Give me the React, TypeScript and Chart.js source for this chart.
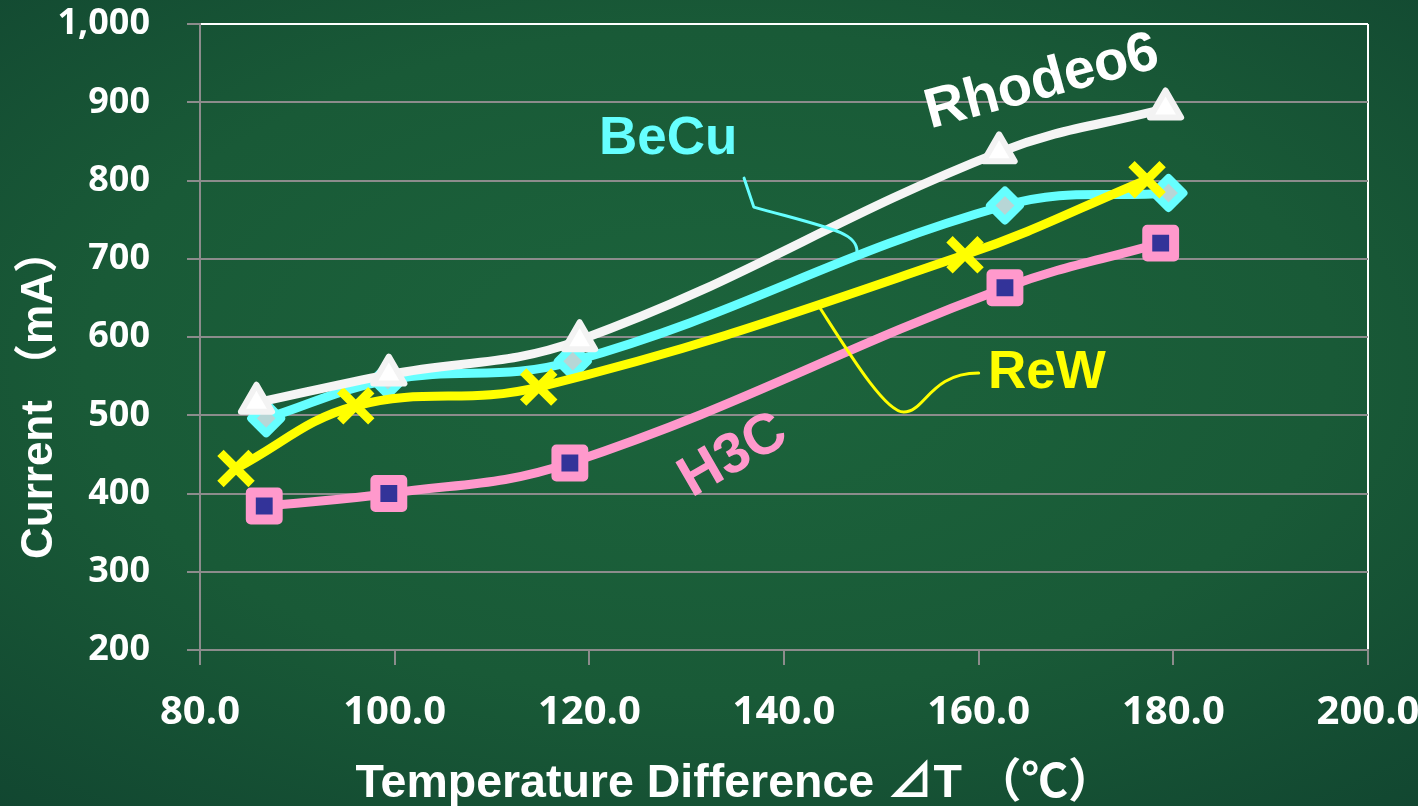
import React, { useEffect, useRef } from "react";
import { Chart, registerables } from "chart.js";

Chart.register(...registerables);

// ---- data ----
const rhodeoX = [85.8, 99.4, 119.0, 162.1, 179.2];
const rhodeoY = [516, 552, 596, 836, 892];
const becuX = [86.8, 99.3, 118.3, 162.7, 179.5];
const becuY = [496, 545, 569, 768, 784];
const rewX = [83.7, 96.0, 114.8, 158.6, 177.3];
const rewY = [432, 512, 536, 705, 801];
const h3cX = [86.6, 99.4, 118.0, 162.7, 178.7];
const h3cY = [384, 400, 439, 663, 720];

const xTicks = [80, 100, 120, 140, 160, 180, 200];
const yTicks = [200, 300, 400, 500, 600, 700, 800, 900, 1000];

const xTitle = "Temperature Difference ⊿T （℃）";
const yTitle = "Current （mA）";

// series name annotations (data coordinates)
const seriesNames = ["Rhodeo6", "BeCu", "ReW", "H3C"];
const nameX = [166.5, 128.1, 167.0, 134.8];
const nameY = [925, 852, 553, 448];
const nameAngle = [-15, 0, 0, -30];
const nameSize = [56, 53, 53, 57];
const nameColor = ["#ffffff", "#66ffff", "#ffff00", "#ff99cc"];

// leader lines (data coordinates)
const becuLeadX = [135.9, 136.9, 144.7, 147.5, 147.5];
const becuLeadY = [803, 766, 739, 734, 709];
const rewLeadX = [143.7, 146.8, 150.4, 152.3, 154.5, 155.0, 160.0];
const rewLeadY = [637, 577, 504, 504, 504, 554, 554];

const pts = (xs: number[], ys: number[]) => xs.map((x, i) => ({ x, y: ys[i] }));

const tickFont = "'Open Sans', 'Noto Sans CJK JP', sans-serif";
const titleFont = "'Liberation Sans', Arial, 'Noto Sans CJK JP', sans-serif";
const gridGray = "#8c8c8c";

export default function App() {
  const ref = useRef<HTMLCanvasElement | null>(null);

  useEffect(() => {
    const canvas = ref.current;
    if (!canvas) return;

    const decor = {
      id: "decor",
      beforeDatasetsDraw(chart: any) {
        chart.ctx.lineJoin = "round";
      },
      afterDatasetsDraw(chart: any) {
        const { ctx, scales } = chart;
        const X = (v: number) => scales.x.getPixelForValue(v);
        const Y = (v: number) => scales.y.getPixelForValue(v);
        ctx.save();
        ctx.lineWidth = 3;
        ctx.lineCap = "round";
        // BeCu leader
        ctx.strokeStyle = "#66ffff";
        ctx.beginPath();
        ctx.moveTo(X(becuLeadX[0]), Y(becuLeadY[0]));
        ctx.lineTo(X(becuLeadX[1]), Y(becuLeadY[1]));
        ctx.bezierCurveTo(
          X(becuLeadX[2]), Y(becuLeadY[2]),
          X(becuLeadX[3]), Y(becuLeadY[3]),
          X(becuLeadX[4]), Y(becuLeadY[4])
        );
        ctx.stroke();
        // ReW leader
        ctx.strokeStyle = "#ffff00";
        ctx.beginPath();
        ctx.moveTo(X(rewLeadX[0]), Y(rewLeadY[0]));
        ctx.bezierCurveTo(
          X(rewLeadX[1]), Y(rewLeadY[1]),
          X(rewLeadX[2]), Y(rewLeadY[2]),
          X(rewLeadX[3]), Y(rewLeadY[3])
        );
        ctx.bezierCurveTo(
          X(rewLeadX[4]), Y(rewLeadY[4]),
          X(rewLeadX[5]), Y(rewLeadY[5]),
          X(rewLeadX[6]), Y(rewLeadY[6])
        );
        ctx.stroke();
        // series names
        ctx.textAlign = "center";
        ctx.textBaseline = "middle";
        seriesNames.forEach((name, i) => {
          ctx.save();
          ctx.font = `bold ${nameSize[i]}px 'Liberation Sans', Arial, sans-serif`;
          ctx.translate(X(nameX[i]), Y(nameY[i]));
          ctx.rotate((nameAngle[i] * Math.PI) / 180);
          ctx.fillStyle = nameColor[i];
          ctx.fillText(name, 0, 0);
          ctx.restore();
        });
        ctx.restore();
      },
      afterDraw(chart: any) {
        const { ctx, chartArea } = chart;
        ctx.save();
        ctx.fillStyle = "#ffffff";
        ctx.textAlign = "center";
        ctx.textBaseline = "alphabetic";
        ctx.font = `bold 46.5px ${titleFont}`;
        ctx.fillText(xTitle, chartArea.left + 535, chartArea.bottom + 147);
        ctx.font = `bold 44px ${titleFont}`;
        ctx.translate(52, chartArea.top + 370);
        ctx.rotate(-Math.PI / 2);
        ctx.fillText(yTitle, 0, 0);
        ctx.restore();
      },
    };

    const common = { borderWidth: 9, tension: 0.4, fill: false, clip: false as any };

    const chart = new Chart(canvas, {
      type: "line",
      data: {
        datasets: [
          {
            ...common,
            label: "Rhodeo6",
            data: pts(rhodeoX, rhodeoY),
            borderColor: "#f5f5f5",
            pointStyle: "triangle",
            pointRadius: 18,
            pointBorderWidth: 6,
            pointBackgroundColor: "#ffffff",
            pointBorderColor: "#f3f3f3",
          },
          {
            ...common,
            label: "ReW",
            data: pts(rewX, rewY),
            borderColor: "#ffff00",
            pointStyle: "crossRot",
            pointRadius: 22,
            pointBorderWidth: 9,
            pointBackgroundColor: "#ffff00",
            pointBorderColor: "#ffff00",
          },
          {
            ...common,
            label: "BeCu",
            data: pts(becuX, becuY),
            borderColor: "#66ffff",
            pointStyle: "rectRot",
            pointRadius: 15,
            pointBorderWidth: 8,
            pointBackgroundColor: "#b7d6d6",
            pointBorderColor: "#66ffff",
          },
          {
            ...common,
            label: "H3C",
            data: pts(h3cX, h3cY),
            borderColor: "#ff99cc",
            pointStyle: "rect",
            pointRadius: 19,
            pointBorderWidth: 10,
            pointBackgroundColor: "#333399",
            pointBorderColor: "#ff99cc",
          },
        ],
      },
      options: {
        animation: false,
        responsive: false,
        devicePixelRatio: 1,
        layout: { autoPadding: false, padding: { top: 24, right: 50, left: 0, bottom: 0 } },
        plugins: { legend: { display: false }, tooltip: { enabled: false } },
        scales: {
          x: {
            type: "linear",
            min: 80,
            max: 200,
            afterBuildTicks: (s: any) => {
              s.ticks = xTicks.map((v) => ({ value: v }));
            },
            afterFit: (s: any) => {
              s.height = 156;
              s.paddingLeft = 0;
              s.paddingRight = 0;
            },
            ticks: {
              color: "#ffffff",
              font: { family: tickFont, size: 40, weight: "bold" },
              padding: 24,
              maxRotation: 0,
              autoSkip: false,
              callback: (v: any) => Number(v).toFixed(1),
            },
            grid: {
              color: (c: any) => (c.tick && c.tick.value === 200 ? "#ffffff" : "rgba(0,0,0,0)"),
              lineWidth: 2,
              tickColor: gridGray,
              tickLength: 15,
            },
            border: { color: gridGray, width: 2 },
          },
          y: {
            type: "linear",
            min: 200,
            max: 1000,
            afterBuildTicks: (s: any) => {
              s.ticks = yTicks.map((v) => ({ value: v }));
            },
            afterFit: (s: any) => {
              s.width = 200;
              s.paddingTop = 0;
              s.paddingBottom = 0;
            },
            ticks: {
              color: "#ffffff",
              font: { family: tickFont, size: 36, weight: "bold" },
              padding: 37,
              callback: (v: any) => Number(v).toLocaleString("en-US"),
            },
            grid: {
              color: (c: any) => (c.tick && c.tick.value === 1000 ? "#ffffff" : gridGray),
              lineWidth: 2,
              tickColor: gridGray,
              tickLength: 13,
            },
            border: { color: gridGray, width: 2 },
          },
        },
      },
      plugins: [decor],
    } as any);

    return () => chart.destroy();
  }, []);

  return (
    <div
      style={{
        position: "fixed",
        left: 0,
        top: 0,
        width: 1418,
        height: 806,
        background:
          "radial-gradient(ellipse 80% 75% at 50% 45%, #1c643c 0%, #195a37 55%, #114530 100%)",
      }}
    >
      <canvas ref={ref} width={1418} height={806} style={{ display: "block" }} />
    </div>
  );
}
